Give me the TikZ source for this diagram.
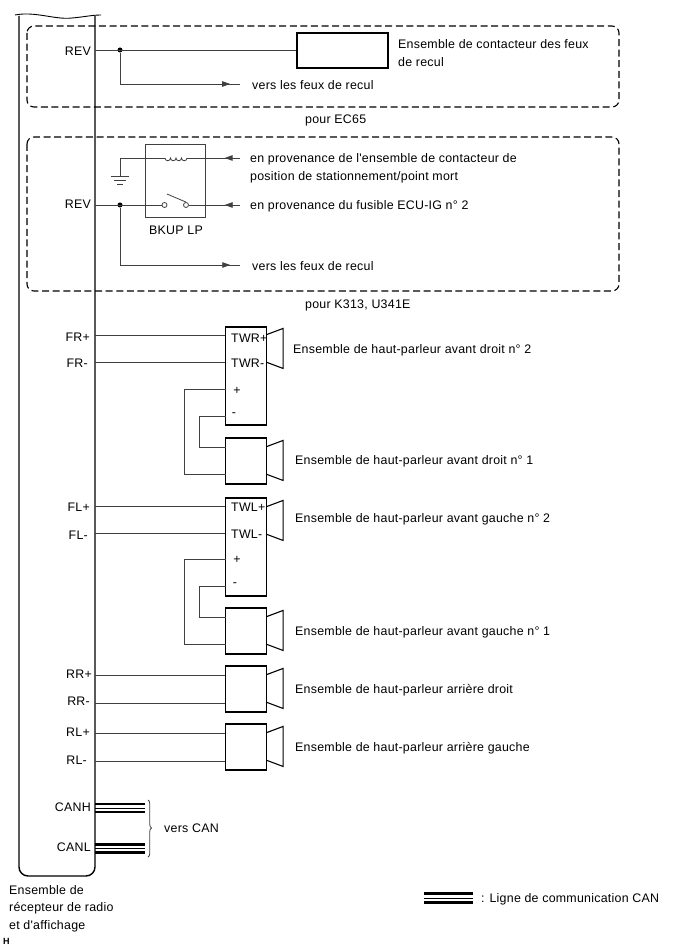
\documentclass[tikz,border=0pt]{standalone}
\usepackage{fontspec}
\newfontfamily\schemafont[LetterSpace=2]{Liberation Sans}
\usetikzlibrary{positioning,arrows.meta,decorations.markings,decorations.pathreplacing}

\begin{document}
\begin{tikzpicture}[x=1pt,y=-1pt,
    every node/.style={inner sep=0pt, font=\schemafont\fontsize{12.4}{14}\selectfont},
    wire/.style={draw=black!75, line width=0.8pt},
    casing/.style={draw, line width=1.4pt},
    zone/.style={draw, line width=1.1pt, rounded corners=7pt, dash pattern=on 7pt off 3.6pt},
    box/.style={draw, line width=1.1pt, minimum width=41pt},
    relay/.style={draw=black!75, line width=0.9pt, minimum width=60pt, minimum height=73pt},
    txt/.style={anchor=west, yshift=-0.8pt},
    pin/.style={anchor=east, yshift=-0.8pt},
    lbl/.style={yshift=-0.8pt},
    dot/.style={circle, fill, minimum size=5pt},
    contact/.style={circle, draw=black!75, fill=white, line width=0.8pt, minimum size=5pt},
    canbus/.style={line width=2.4pt},
    canmid/.style={line width=0.8pt},
    tip/.style={postaction={decorate}, decoration={markings,
        mark=at position #1 with {\arrow{Triangle[length=8pt,width=5.5pt]}}}}]

  \useasboundingbox (0,0) rectangle (688,949);

  % recepteur
  \draw[casing, rounded corners=9pt] (19,16) -- (19,876) -- (95,876) -- (95,16);
  \draw[line width=0.9pt] (15,15) .. controls (35,11) and (55,20) .. (72,18) .. controls (84,17) and (92,15) .. (101,15);
  \node[txt] (rcv1) at (9,889) {Ensemble de};
  \node[txt] (rcv2) at (9,907) {récepteur de radio};
  \node[txt] (rcv3) at (9,925) {et d'affichage};
  \node[txt, font=\schemafont\fontsize{9}{10}\bfseries\selectfont] (hmark) at (3,941) {H};

  % zones
  \draw[zone] (27,26) rectangle (619,107);
  \draw[zone] (27,137) rectangle (619,291);
  \node[txt] (ec65) at (305,120) {pour EC65};
  \node[txt] (k313) at (305,305) {pour K313, U341E};

  % feux de recul EC65
  \node[pin] (rev1) at (91,50) {REV};
  \coordinate (rev1p) at (95,50);
  \node[dot] (j1) at (120,50) {};
  \node[box, minimum width=91pt, minimum height=35pt] (ctc) at (342.5,50.5) {};
  \node[txt] (ctc1) at (398,43) {Ensemble de contacteur des feux};
  \node[txt] (ctc2) at (398,61) {de recul};
  \coordinate (out1) at (240,84);
  \node[txt] (out1t) at (252,84) {vers les feux de recul};
  \draw[wire] (rev1p) -- (ctc.west |- rev1p);
  \draw[wire, tip=0.935] (j1) |- (out1);

  % relais
  \node[relay] (bkup) at (175,180.5) {};
  \node[lbl] (bkupt) at (176,229) {BKUP LP};
  \node[pin] (rev2) at (91,203) {REV};
  \coordinate (rev2p) at (95,205);
  \node[dot] (j2) at (120,205) {};
  \node[contact] (c1) at (164.5,205) {};
  \node[contact] (c2) at (186,205) {};
  \coordinate (blade) at (167,194);
  \coordinate (gnd) at (120,176);
  \coordinate (coilL) at (165,158);
  \coordinate (coilR) at (187,158);
  \coordinate (in1) at (240,158);
  \coordinate (in2) at (240,205);
  \coordinate (out2) at (240,265);
  \node[txt] (in1a) at (250,158) {en provenance de l'ensemble de contacteur de};
  \node[txt] (in1b) at (250,176) {position de stationnement/point mort};
  \node[txt] (in2t) at (250,205) {en provenance du fusible ECU-IG n° 2};
  \node[txt] (out2t) at (252,265) {vers les feux de recul};
  \draw[wire] (gnd) |- (coilL);
  \draw[wire] (coilL)
    \foreach \i in {1,2,3,4} { arc[start angle=180,end angle=0,radius=2.75] } -- (coilR);
  \draw[wire, tip=0.29] (in1) -- (coilR);
  \draw[wire] (gnd) ++(-9,0) -- ++(18,0) (gnd) ++(-6,4) -- ++(12,0) (gnd) ++(-3,8) -- ++(6,0);
  \draw[wire] (rev2p) -- (c1);
  \draw[wire, tip=0.3] (in2) -- (c2);
  \draw[wire] (blade) -- (c2.north);
  \draw[wire, tip=0.945] (j2) |- (out2);

  % haut-parleurs avant droit
  \node[box, minimum height=98pt] (twr) at (246,376) {};
  \node[box, minimum height=46pt] (frl) at (246,461) {};
  \node[txt] (twrp) at (231,337) {TWR+};
  \node[txt] (twrm) at (231,362) {TWR-};
  \node[lbl] (twrpp) at (237,390) {+};
  \node[lbl] (twrmm) at (234,414) {-};
  \node[pin] (frpt) at (90,336) {FR+};
  \node[pin] (frmt) at (88,362) {FR-};
  \coordinate (frp) at (95,335);
  \coordinate (frm) at (95,362);
  \coordinate (twrA) at (226,389);
  \coordinate (twrB) at (226,416);
  \coordinate (frlA) at (226,474);
  \coordinate (frlB) at (226,447);
  \node[txt] (twrt) at (293,349) {Ensemble de haut-parleur avant droit n° 2};
  \node[txt] (frlt) at (295,460) {Ensemble de haut-parleur avant droit n° 1};
  \draw[wire] (frp) -- (frp -| twr.west);
  \draw[wire] (frm) -- (frm -| twr.west);
  \draw[wire] (twrA) -- (184,389) -- (184,474) -- (frlA);
  \draw[wire] (twrB) -- (199,416) -- (199,447) -- (frlB);

  % haut-parleurs avant gauche
  \node[box, minimum height=98pt] (twl) at (246,547) {};
  \node[box, minimum height=46pt] (fll) at (246,631) {};
  \node[txt] (twlp) at (231,506) {TWL+};
  \node[txt] (twlm) at (231,533) {TWL-};
  \node[lbl] (twlpp) at (237,559) {+};
  \node[lbl] (twlmm) at (235,584) {-};
  \node[pin] (flpt) at (90,506) {FL+};
  \node[pin] (flmt) at (88,534) {FL-};
  \coordinate (flp) at (95,506);
  \coordinate (flm) at (95,533);
  \coordinate (twlA) at (226,559);
  \coordinate (twlB) at (226,586);
  \coordinate (fllA) at (226,644);
  \coordinate (fllB) at (226,617);
  \node[txt] (twlt) at (295,518) {Ensemble de haut-parleur avant gauche n° 2};
  \node[txt] (fllt) at (295,631) {Ensemble de haut-parleur avant gauche n° 1};
  \draw[wire] (flp) -- (flp -| twl.west);
  \draw[wire] (flm) -- (flm -| twl.west);
  \draw[wire] (twlA) -- (184,559) -- (184,644) -- (fllA);
  \draw[wire] (twlB) -- (199,586) -- (199,617) -- (fllB);

  % haut-parleurs arriere
  \node[box, minimum height=46pt] (rrs) at (246,689) {};
  \node[box, minimum height=46pt] (rls) at (246,747) {};
  \node[pin] (rrpt) at (92,673) {RR+};
  \node[pin] (rrmt) at (90,700) {RR-};
  \node[pin] (rlpt) at (90,731) {RL+};
  \node[pin] (rlmt) at (87,759) {RL-};
  \coordinate (rrp) at (95,675);
  \coordinate (rrm) at (95,703);
  \coordinate (rlp) at (95,733);
  \coordinate (rlm) at (95,761);
  \node[txt] (rrt) at (295,689) {Ensemble de haut-parleur arrière droit};
  \node[txt] (rlt) at (295,747) {Ensemble de haut-parleur arrière gauche};
  \draw[wire] (rrp) -- (rrp -| rrs.west);
  \draw[wire] (rrm) -- (rrm -| rrs.west);
  \draw[wire] (rlp) -- (rlp -| rls.west);
  \draw[wire] (rlm) -- (rlm -| rls.west);

  % cones
  \foreach \spk/\dy in {twr/8,frl/9,twl/9,fll/9,rrs/9,rls/9}
    \draw[line width=1.1pt] ([yshift=-\dy pt]\spk.north east) -- ++(16,-6) -- ++(0,40) -- ++(-16,-6);

  % CAN
  \node[pin] (canht) at (91,806) {CANH};
  \node[pin] (canlt) at (91,846) {CANL};
  \coordinate (canh) at (95,808);
  \coordinate (canl) at (95,848.5);
  \coordinate (canhE) at (145,808);
  \coordinate (canlE) at (145,848.5);
  \foreach \a/\b in {canh/canhE,canl/canlE} {
    \draw[canbus] ([yshift=4pt]\a) -- ([yshift=4pt]\b);
    \draw[canmid] (\a) -- (\b);
    \draw[canbus] ([yshift=-4pt]\a) -- ([yshift=-4pt]\b);
  }
  \draw[wire, decorate, decoration={brace,amplitude=3.5pt,aspect=0.49}] (148,800) -- (148,857);
  \node[txt] (cant) at (164,827) {vers CAN};

  % legende
  \coordinate (legA) at (424,898);
  \coordinate (legB) at (473,898);
  \draw[canbus] ([yshift=4.5pt]legA) -- ([yshift=4.5pt]legB);
  \draw[canmid] (legA) -- (legB);
  \draw[canbus] ([yshift=-4.5pt]legA) -- ([yshift=-4.5pt]legB);
  \node[txt] (legt) at (481,898) {: Ligne de communication CAN};

\end{tikzpicture}
\end{document}
